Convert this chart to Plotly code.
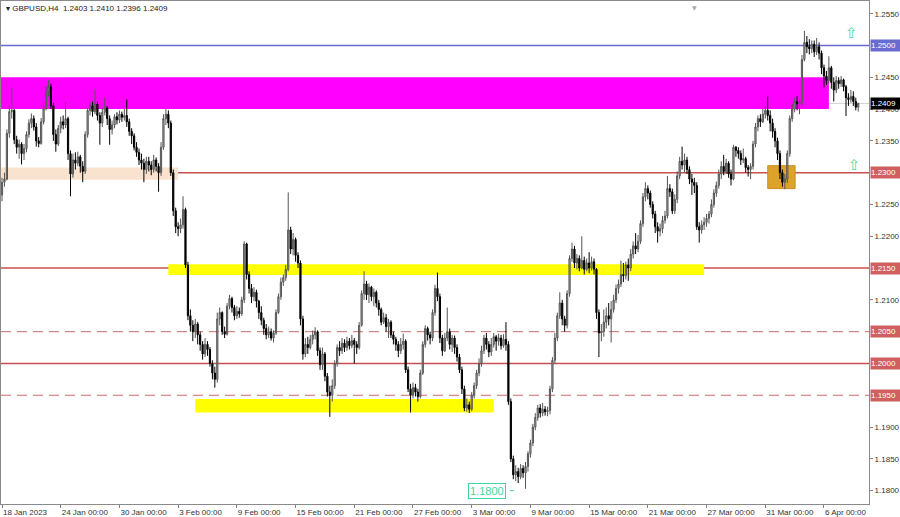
import plotly.graph_objects as go

# GBPUSD H4 bars, prices stored in pips above 1.0000 (2403 -> 1.2403)
first_open = 2265

close_pips = [
    2285, 2290, 2362, 2396, 2398, 2352, 2340, 2345, 2330, 2338,
    2360, 2378, 2385, 2372, 2350, 2346, 2380, 2402, 2428, 2435,
    2405, 2360, 2345, 2370, 2380, 2375, 2385, 2330, 2298, 2320,
    2315, 2325, 2310, 2302, 2360, 2398, 2405, 2396, 2408, 2390,
    2378, 2395, 2402, 2385, 2368, 2375, 2388, 2383, 2392, 2387,
    2390, 2380, 2365, 2358, 2340, 2332, 2320, 2315, 2305, 2318,
    2312, 2305, 2320, 2310, 2300, 2340, 2385, 2392, 2378, 2300,
    2240, 2215, 2212, 2218, 2242, 2155, 2075, 2060, 2050, 2062,
    2045, 2030, 2015, 2030, 2022, 2000, 1985, 1975, 2070, 2080,
    2050, 2046, 2090, 2102, 2088, 2075, 2082, 2078, 2100, 2188,
    2140, 2118, 2105, 2112, 2098, 2080, 2068, 2055, 2045, 2050,
    2040, 2048, 2080, 2105, 2128, 2135, 2148, 2210, 2180, 2195,
    2170, 2158, 2070, 2015, 2030, 2025, 2038, 2045, 2050, 2020,
    1998, 2015, 1980, 1955, 1950, 1965, 2000, 2025, 2020, 2032,
    2025, 2035, 2028, 2036, 2030, 2025, 2060, 2110, 2125, 2108,
    2120, 2105, 2112, 2095, 2085, 2065, 2072, 2058, 2065, 2045,
    2038, 2030, 2020, 2030, 2035, 1990, 1960, 1950, 1962, 1955,
    1948, 1985, 2030, 2055, 2045, 2040, 2080, 2118, 2105, 2040,
    2020, 2040, 2050, 2030, 2040, 2025, 2010, 1990, 1960, 1930,
    1935, 1928, 1950, 1965, 1985, 2000, 2020, 2040, 2030, 2018,
    2030, 2042, 2035, 2040, 2028, 2038, 2030, 1940, 1850, 1825,
    1830, 1822, 1835, 1828, 1838, 1858, 1875, 1900, 1915, 1930,
    1922, 1928, 1924, 1926, 1960, 2005, 2040, 2075, 2095, 2070,
    2060, 2110, 2165, 2180, 2158, 2165, 2150, 2162, 2148, 2158,
    2150, 2160, 2148, 2080, 2048, 2050, 2065, 2075, 2070, 2085,
    2100, 2118, 2125, 2140, 2138, 2155, 2150, 2172, 2185, 2180,
    2192, 2220, 2262, 2275, 2268, 2250, 2235, 2215, 2208, 2212,
    2225, 2232, 2275, 2270, 2240, 2258, 2295, 2318, 2312, 2320,
    2305, 2290, 2285, 2280, 2215, 2210, 2218, 2222, 2228, 2235,
    2250, 2268, 2280, 2298, 2310, 2302, 2315, 2298, 2290, 2340,
    2335, 2330, 2320, 2322, 2308, 2305, 2310, 2345, 2372, 2385,
    2380, 2392, 2398, 2390, 2378, 2365, 2350, 2330, 2300, 2285,
    2290, 2330, 2385, 2400, 2412, 2408, 2410, 2478, 2505, 2498,
    2495, 2502, 2490, 2498, 2488, 2465, 2452, 2445, 2465, 2442,
    2430, 2445, 2440, 2446, 2435, 2418, 2415, 2420, 2412, 2403,
    2409,
]

high_pips = [
    2292, 2300, 2368, 2405, 2434, 2400, 2358, 2352, 2348, 2345,
    2365, 2384, 2393, 2390, 2378, 2356, 2386, 2410, 2436, 2446,
    2440, 2410, 2368, 2375, 2388, 2390, 2411, 2388, 2335, 2330,
    2332, 2333, 2328, 2318, 2365, 2402, 2410, 2412, 2431, 2412,
    2395, 2402, 2418, 2405, 2390, 2382, 2392, 2395, 2398, 2396,
    2400, 2415, 2385, 2370, 2362, 2348, 2338, 2330, 2322, 2325,
    2325, 2318, 2328, 2324, 2315, 2348, 2392, 2400, 2398, 2382,
    2305, 2245, 2222, 2228, 2263, 2245, 2160, 2085, 2068, 2070,
    2065, 2050, 2035, 2040, 2035, 2026, 2005, 1995, 2080, 2088,
    2082, 2058, 2095, 2108, 2105, 2092, 2090, 2088, 2105, 2192,
    2190, 2145, 2125, 2120, 2116, 2100, 2090, 2072, 2062, 2058,
    2055, 2052, 2085, 2110, 2135, 2140, 2155, 2269, 2215, 2205,
    2198, 2175, 2162, 2075, 2040, 2042, 2045, 2052, 2057, 2052,
    2025, 2025, 2018, 1985, 1965, 1975, 2005, 2030, 2035, 2040,
    2038, 2042, 2040, 2045, 2040, 2035, 2065, 2115, 2145, 2130,
    2126, 2122, 2118, 2115, 2100, 2088, 2080, 2078, 2070, 2068,
    2050, 2042, 2035, 2040, 2047, 2038, 1995, 1968, 1970, 1968,
    1960, 1990, 2035, 2060, 2058, 2050, 2085, 2124, 2143, 2110,
    2045, 2048, 2088, 2055, 2045, 2044, 2030, 2015, 1995, 1965,
    1945, 1940, 1955, 1970, 1990, 2008, 2028, 2045, 2048, 2035,
    2040, 2048, 2045, 2047, 2045, 2046, 2065, 2035, 1945, 1855,
    1840, 1836, 1842, 1840, 1845, 1862, 1880, 1905, 1922, 1935,
    1936, 1938, 1933, 1932, 1965, 2010, 2048, 2080, 2112, 2100,
    2075, 2115, 2170, 2190, 2185, 2172, 2170, 2200, 2168, 2165,
    2175, 2168, 2165, 2150, 2085, 2062, 2085, 2088, 2095, 2098,
    2108, 2124, 2132, 2162, 2158, 2160, 2165, 2180, 2192, 2205,
    2202, 2225, 2268, 2285, 2280, 2272, 2255, 2240, 2222, 2220,
    2232, 2240, 2295, 2282, 2275, 2266, 2302, 2325, 2341, 2330,
    2325, 2310, 2298, 2292, 2285, 2222, 2225, 2230, 2235, 2240,
    2258, 2274, 2286, 2305, 2318, 2328, 2322, 2318, 2305, 2344,
    2342, 2340, 2335, 2338, 2325, 2312, 2315, 2350, 2378, 2390,
    2392, 2400, 2405, 2420, 2398, 2385, 2370, 2355, 2335, 2305,
    2298, 2335, 2390, 2408, 2418, 2420, 2416, 2485, 2523, 2515,
    2510, 2508, 2508, 2512, 2505, 2492, 2470, 2460, 2483, 2468,
    2450, 2452, 2450, 2452, 2448, 2438, 2425, 2430, 2428, 2418,
    2410,
]

low_pips = [
    2255, 2278, 2288, 2355, 2385, 2345, 2330, 2322, 2313, 2320,
    2332, 2355, 2370, 2366, 2341, 2340, 2344, 2376, 2398, 2420,
    2400, 2350, 2333, 2342, 2362, 2368, 2370, 2320, 2263, 2292,
    2305, 2310, 2300, 2285, 2298, 2355, 2390, 2388, 2392, 2382,
    2344, 2372, 2390, 2375, 2344, 2360, 2370, 2376, 2378, 2380,
    2382, 2372, 2358, 2345, 2335, 2325, 2312, 2305, 2285, 2298,
    2302, 2296, 2300, 2302, 2270, 2295, 2336, 2375, 2370, 2295,
    2232, 2205, 2200, 2205, 2212, 2150, 2068, 2050, 2035, 2040,
    2030, 2020, 2006, 2010, 2012, 1995, 1975, 1962, 1970, 2060,
    2045, 2040, 2044, 2085, 2080, 2068, 2070, 2072, 2075, 2095,
    2132, 2110, 2095, 2098, 2088, 2070, 2060, 2045, 2038, 2040,
    2036, 2033, 2045, 2078, 2100, 2122, 2130, 2145, 2172, 2170,
    2160, 2150, 2060, 2006, 2010, 2015, 2022, 2030, 2038, 2012,
    1990, 1990, 1972, 1948, 1916, 1940, 1960, 1995, 2012, 2015,
    2018, 2020, 2022, 2024, 2000, 2015, 2022, 2058, 2100, 2100,
    2095, 2098, 2090, 2088, 2075, 2060, 2062, 2050, 2040, 2040,
    2030, 2020, 2010, 2015, 2022, 1985, 1955, 1923, 1945, 1948,
    1940, 1945, 1982, 2025, 2036, 2030, 2035, 2075, 2098, 2032,
    2012, 2018, 2035, 2022, 2018, 2015, 2003, 1985, 1952, 1925,
    1924, 1922, 1925, 1945, 1960, 1980, 1995, 2015, 2022, 2010,
    2012, 2025, 2020, 2028, 2022, 2025, 2020, 1935, 1845, 1818,
    1815, 1812, 1818, 1820, 1803, 1830, 1852, 1870, 1895, 1910,
    1915, 1917, 1918, 1917, 1920, 1955, 2000, 2035, 2070, 2060,
    2050, 2055, 2105, 2160, 2150, 2148, 2145, 2148, 2140, 2145,
    2142, 2146, 2140, 2070, 2010, 2035, 2042, 2055, 2060, 2033,
    2080, 2095, 2110, 2120, 2128, 2132, 2130, 2145, 2165, 2172,
    2175, 2188, 2215, 2255, 2258, 2245, 2228, 2205, 2190, 2200,
    2205, 2220, 2228, 2262, 2235, 2235, 2252, 2290, 2305, 2300,
    2298, 2282, 2265, 2268, 2210, 2190, 2204, 2210, 2215, 2220,
    2230, 2245, 2262, 2275, 2290, 2296, 2298, 2292, 2280, 2288,
    2325, 2322, 2312, 2315, 2300, 2294, 2290, 2305, 2340, 2365,
    2372, 2378, 2385, 2382, 2365, 2355, 2340, 2320, 2290, 2278,
    2274, 2284, 2325, 2380, 2395, 2398, 2392, 2405, 2475, 2488,
    2486, 2488, 2482, 2485, 2478, 2455, 2434, 2438, 2440, 2432,
    2412, 2425, 2432, 2435, 2428, 2389, 2405, 2410, 2405, 2398,
    2396,
]

date_ticks = [0, 24, 48, 72, 96, 120, 144, 168, 192, 216, 240, 264, 288, 312, 336]
date_labels = ["18 Jan 2023", "24 Jan 00:00", "30 Jan 00:00", "3 Feb 00:00", "9 Feb 00:00",
               "15 Feb 00:00", "21 Feb 00:00", "27 Feb 00:00", "3 Mar 00:00", "9 Mar 00:00",
               "15 Mar 00:00", "21 Mar 00:00", "27 Mar 00:00", "31 Mar 00:00", "6 Apr 00:00"]

# plain price scale labels (levels with coloured tags are left out)
price_ticks = [1.1800, 1.1850, 1.1900, 1.2100, 1.2200, 1.2250, 1.2350, 1.2400, 1.2450, 1.2550]

solid_levels = [1.2300, 1.2150, 1.2000]
dashed_levels = [1.2050, 1.1950]
blue_level = 1.2500
bid_price = 1.2409

# each bar opens where the previous one closed
open_pips = [first_open] + close_pips[:-1]
bars = list(range(len(close_pips)))
opens = [1 + p / 10000 for p in open_pips]
closes = [1 + p / 10000 for p in close_pips]
highs = [1 + max(h, o, c) / 10000 for h, o, c in zip(high_pips, open_pips, close_pips)]
lows = [1 + min(l, o, c) / 10000 for l, o, c in zip(low_pips, open_pips, close_pips)]

RED = "#c9504f"
FONT = "Liberation Sans"

fig = go.Figure()
fig.add_trace(go.Candlestick(
    x=bars, open=opens, high=highs, low=lows, close=closes,
    increasing=dict(line=dict(color="#555555", width=1), fillcolor="#b0b0b0"),
    decreasing=dict(line=dict(color="#000000", width=1), fillcolor="#000000"),
    whiskerwidth=0, showlegend=False, hoverinfo="skip"))

shapes = []
# zones
shapes.append(dict(type="rect", xref="x", yref="y", x0=-1, x1=338, y0=1.2400, y1=1.2450,
                   fillcolor="#ff00ff", line_width=0, layer="below"))
shapes.append(dict(type="rect", xref="x", yref="y", x0=-1, x1=72, y0=1.2289, y1=1.2308,
                   fillcolor="#f9e3cf", line_width=0, layer="below"))
shapes.append(dict(type="rect", xref="x", yref="y", x0=68, x1=287, y0=1.2139, y1=1.2156,
                   fillcolor="#ffff00", line_width=0, layer="below"))
shapes.append(dict(type="rect", xref="x", yref="y", x0=79, x1=201, y0=1.1923, y1=1.1944,
                   fillcolor="#ffff00", line_width=0, layer="below"))
shapes.append(dict(type="rect", xref="x", yref="y", x0=313, x1=324.2, y0=1.2275, y1=1.2311,
                   fillcolor="#dca22c", line=dict(color="#c98f1c", width=1), layer="below"))
# horizontal levels
for lv in solid_levels:
    shapes.append(dict(type="line", xref="paper", yref="y", x0=0, x1=1, y0=lv, y1=lv,
                       line=dict(color=RED, width=1.5), layer="below"))
for lv in dashed_levels:
    shapes.append(dict(type="line", xref="paper", yref="y", x0=0, x1=1, y0=lv, y1=lv,
                       line=dict(color="#d06a6a", width=1, dash="10px,6px"), layer="below"))
shapes.append(dict(type="line", xref="paper", yref="y", x0=0, x1=1, y0=blue_level, y1=blue_level,
                   line=dict(color="#6a6ad0", width=1.5), layer="below"))
shapes.append(dict(type="line", xref="paper", yref="y", x0=0, x1=1, y0=bid_price, y1=bid_price,
                   line=dict(color="#d0d0d0", width=1), layer="below"))
# small tail after the 1.1800 tag
shapes.append(dict(type="line", xref="x", yref="y", x0=207.6, x1=209.2, y0=1.1800, y1=1.1800,
                   line=dict(color="#3fd6a0", width=1)))

annotations = []


def tag(y, text, bg):
    annotations.append(dict(xref="paper", yref="y", x=1, y=y, xanchor="left", yanchor="middle",
                            xshift=1, text=text, showarrow=False, bgcolor=bg, width=29,
                            height=11, align="left", borderpad=0,
                            font=dict(family=FONT, size=8, color="#ffffff")))


tag(blue_level, "1.2500", "#6a6ad0")
for lv in solid_levels + dashed_levels:
    tag(lv, "%.4f" % lv, "#d06060")
tag(bid_price, "1.2409", "#000000")

annotations.append(dict(xref="paper", yref="paper", x=0, y=1, xanchor="left", yanchor="top",
                        xshift=3, yshift=-1, showarrow=False,
                        text="▾ GBPUSD,H4  1.2403 1.2410 1.2396 1.2409",
                        font=dict(family=FONT, size=8, color="#222222")))
annotations.append(dict(xref="x", yref="y", x=198.2, y=1.1800, xanchor="center", yanchor="middle",
                        showarrow=False, text="1.1800", bgcolor="#ffffff",
                        bordercolor="#3fd6a0", borderwidth=1, borderpad=1,
                        font=dict(family=FONT, size=11, color="#3fd6a0")))
for ax, ay in [(347.2, 1.2520), (348.4, 1.2312)]:
    annotations.append(dict(xref="x", yref="y", x=ax, y=ay, showarrow=False, text="⇧",
                            font=dict(family="DejaVu Sans", size=15, color="#40e0a8")))
annotations.append(dict(xref="x", yref="paper", x=283, y=1, yanchor="top", yshift=-1,
                        showarrow=False, text="▼",
                        font=dict(family="DejaVu Sans", size=6, color="#a8a8a8")))

fig.update_layout(
    width=900, height=517,
    margin=dict(l=0, r=30, t=1, b=12),
    paper_bgcolor="#ffffff", plot_bgcolor="#ffffff",
    shapes=shapes, annotations=annotations,
    font=dict(family=FONT, size=8, color="#333333"),
    xaxis=dict(range=[-0.41, 354.4], tickvals=date_ticks, ticktext=date_labels,
               ticks="outside", ticklen=3, tickcolor="#808080",
               ticklabelposition="outside right", showgrid=False, zeroline=False,
               showline=True, linecolor="#8a8a8a", linewidth=1, mirror=True,
               rangeslider=dict(visible=False), tickfont=dict(size=8, color="#333333")),
    yaxis=dict(side="right", range=[1.1779, 1.2570], tickvals=price_ticks,
               tickformat=".4f", ticks="outside", ticklen=3, tickcolor="#808080",
               showgrid=False, zeroline=False, showline=True, linecolor="#8a8a8a",
               linewidth=1, mirror=True, tickfont=dict(size=8, color="#333333")),
)

# drop the browser's default page margin so the figure sits at the top-left corner
fig.write_html("out.html", config={"displayModeBar": False},
               post_script="document.body.style.margin='0';"
                           "document.body.style.overflow='hidden';")
